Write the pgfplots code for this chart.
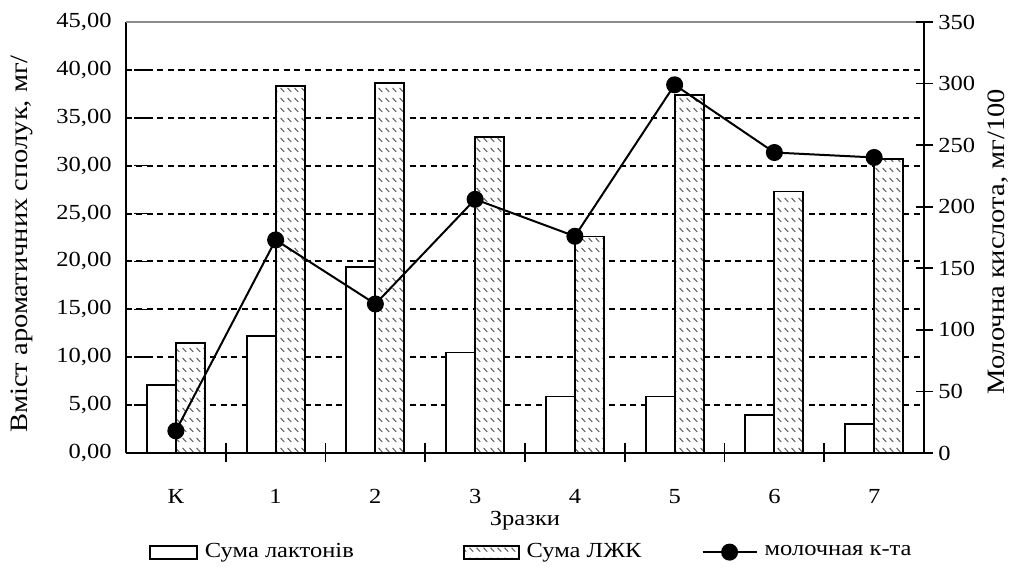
\documentclass[border=0pt]{standalone}
\usepackage{fontspec}
\setmainfont{Liberation Serif}[FakeStretch=1.14]
\usepackage{pgfplots}
\pgfplotsset{compat=1.18}
\usetikzlibrary{patterns.meta}

\tikzdeclarepattern{
  name=ldash,
  type=uncolored,
  bounding box={(0pt,0pt) and (7pt,10pt)},
  tile size={(7pt,10pt)},
  code={\draw[line width=1.2pt] (0.6pt,8.8pt) -- (4.8pt,4.6pt);}
}

\pgfplotsset{
  chartbase/.style={
    scale only axis, width=798pt, height=431pt,
    xmin=-0.5, xmax=7.5,
    axis line style={-, line width=2pt},
    major tick length=17pt, minor tick length=19pt,
    every tick/.style={black, line width=1.6pt},
    /pgf/number format/assume math mode=true,
  },
  lakt/.style={draw=black, line width=1.8pt, fill=white},
  lzhk/.style={draw=black, line width=1.8pt, fill=white,
    postaction={pattern=ldash, pattern color=black!60}},
  boxleg/.style={legend image code/.code={\draw[##1] (0pt,-6.5pt) rectangle (#1,6.5pt);}},
  lineleg/.style={legend image code/.code={\draw[mark repeat=2, mark phase=2, ##1]
      plot coordinates {(0pt,0pt) (27pt,0pt) (54pt,0pt)};}},
}

\begin{document}
\fontsize{21.5}{26}\selectfont
\begin{tikzpicture}
\begin{axis}[
    chartbase,
    ymin=0, ymax=45,
    axis x line*=bottom, axis y line*=left,
    xtick={0,...,7},
    xticklabels={К,1,2,3,4,5,6,7},
    xticklabel style={yshift=-12pt},
    major x tick style={draw=none},
    minor x tick style={yshift=9.5pt},
    major y tick style={xshift=8.5pt},
    minor xtick={0.5,1.5,...,6.5},
    ytick={0,5,...,45},
    yticklabel style={xshift=-7pt, /pgf/number format/.cd, fixed, fixed zerofill, precision=2, use comma},
    ymajorgrids,
    major grid style={black, line width=2pt, dash pattern=on 6pt off 4.5pt},
    ybar=0pt, bar width=29pt,
    xlabel={Зразки},
    every axis x label/.style={at={(axis description cs:0.5,-0.158)}, anchor=center},
    ylabel={Вміст ароматичних сполук, мг/},
    every axis y label/.style={at={(axis description cs:-0.1303,0.485)}, anchor=center,
      rotate=90, font=\fontsize{25}{30}\selectfont},
]
\addplot[lakt] coordinates {
    (0,7.1) (1,12.2) (2,19.4) (3,10.5) (4,5.9) (5,5.9) (6,3.95) (7,3.05)
};
\addplot[lzhk] coordinates {
    (0,11.5) (1,38.3) (2,38.6) (3,33.0) (4,22.6) (5,37.4) (6,27.3) (7,30.7)
};
\draw[black!45, line width=1.6pt] (rel axis cs:0,1) -- (rel axis cs:1,1);
\coordinate (LL) at (rel axis cs:0,0);
\coordinate (UR) at (rel axis cs:1,1);
\end{axis}

\begin{axis}[
    chartbase,
    ymin=0, ymax=350,
    axis x line=none, axis y line*=right,
    major y tick style={xshift=8.5pt},
    ytick={0,50,...,350},
    yticklabel style={xshift=7pt},
    ylabel={Молочна кислота, мг/100},
    every axis y label/.style={at={(axis description cs:1.0927,0.49)}, anchor=center,
      rotate=90, font=\fontsize{25}{30}\selectfont},
    legend style={draw=none, fill=none, at={(0.508,-0.23)}, anchor=center,
      legend columns=3,
      /tikz/column 2/.style={column sep=107pt},
      /tikz/column 4/.style={column sep=58pt}},
]
\addlegendimage{lakt, boxleg=47pt}
\addlegendentry{\hspace{5pt}Сума лактонів}
\addlegendimage{lzhk, boxleg=55pt}
\addlegendentry{\hspace{5pt}Сума ЛЖК}
\addplot[black, line width=2pt, mark=*, mark size=7.5pt, lineleg]
  coordinates {
    (0,18) (1,173) (2,121) (3,206) (4,176) (5,299) (6,244) (7,240)
};
\addlegendentry{\hspace{5pt}молочная к-та}
\end{axis}
\pgfresetboundingbox
\path[use as bounding box] ([shift={(-126pt,-123pt)}]LL) rectangle ([shift={(87pt,22pt)}]UR);
\end{tikzpicture}
\end{document}
